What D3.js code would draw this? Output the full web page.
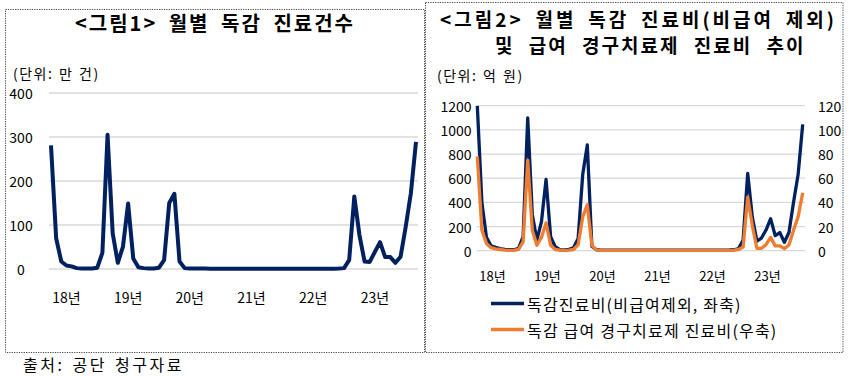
<!DOCTYPE html>
<html><head><meta charset="utf-8">
<script src="https://cdn.jsdelivr.net/npm/d3@7"></script>
<style>
html,body{margin:0;padding:0;background:#fff;}
text{font-family:"Noto Sans CJK KR","Noto Sans",sans-serif;fill:#000;}
</style></head><body>
<svg id="c" width="856" height="376"></svg>
<script>
// ---- data ----
const years = ["18","19","20","21","22","23"];
const monthNums = ["01","02","03","04","05","06","07","08","09","10","11","12"];
const months = years.flatMap(y => monthNums.map(m => y + "-" + m));
const xTickLabels = ["18년","19년","20년","21년","22년","23년"];

// 그림1: 월별 독감 진료건수 (만 건)
const visits = [
  281,70,17,8,6,2,1,1,1,3,37,305,
  81,14,51,149,24,4,2,1,1,3,20,150,
  171,17,2,1,1,1,1,0.5,0.5,0.5,0.5,0.5,
  0.5,0.5,0.5,0.5,0.5,0.5,0.5,0.5,0.5,0.5,0.5,0.5,
  0.5,0.5,0.5,0.5,0.5,0.5,0.5,0.5,1,2,20,165,
  77,17,16,39,61,27,27,14,28,96,172,289
];
// 그림2: 독감진료비(비급여제외, 좌축) (억 원)
const costTotal = [
  1200,400,110,40,28,17,11,8,8,19,116,1100,
  300,88,240,590,116,33,8,6,11,25,100,630,
  875,36,8,5,4,4,4,4,4,4,4,5,
  5,5,4,4,4,4,4,4,4,4,4,5,
  5,5,5,5,5,5,5,6,8,17,89,640,
  280,80,105,171,265,125,150,70,150,400,630,1045
];
// 독감 급여 경구치료제 진료비(우축) (억 원)
const costDrug = [
  78,17,6,2.5,1.5,1,0.5,0.3,0.3,1,7.5,75,
  17,4.5,11,23,4.5,1,0.5,0.3,0.5,1,5,28,
  38,4.5,0.5,0.2,0.2,0.2,0.2,0.2,0.2,0.2,0.2,0.2,
  0.2,0.2,0.2,0.2,0.2,0.2,0.2,0.2,0.2,0.2,0.2,0.2,
  0.2,0.2,0.2,0.2,0.2,0.2,0.2,0.3,0.5,1,3,44.5,
  21,2,2,5,11,4,4,1.7,4.7,17,28,48
];
const leftTicks1 = [0,100,200,300,400];
const leftTicks2 = [0,200,400,600,800,1000,1200];
const rightTicks2 = [0,20,40,60,80,100,120];
const legendLabels = ["독감진료비(비급여제외, 좌축)","독감 급여 경구치료제 진료비(우축)"];

const NAVY = "#002060", ORANGE = "#ED7D31", GRID = "#D9D9D9";
const svg = d3.select("#c");

// boxes
svg.append("rect").attr("x",5.5).attr("y",9.5).attr("width",419).attr("height",343)
  .attr("fill","none").attr("stroke","#444").attr("stroke-width",1).attr("stroke-dasharray","1.2,1.2");
svg.append("rect").attr("x",425.5).attr("y",2.5).attr("width",417.5).attr("height",350)
  .attr("fill","none").attr("stroke","#444").attr("stroke-width",1).attr("stroke-dasharray","1.2,1.2");

// ---------- Chart 1 ----------
svg.append("text").attr("x",215).attr("y",22).attr("text-anchor","middle").attr("dominant-baseline","central")
  .style("font-size","20px").style("font-weight","bold").style("word-spacing","5px").style("letter-spacing","2px")
  .text("<그림1> 월별 독감 진료건수");
svg.append("text").attr("x",13).attr("y",73).attr("dominant-baseline","central")
  .style("font-size","14px").style("letter-spacing","1.5px").style("word-spacing","1px").text("(단위: 만 건)");

const x1 = d3.scaleLinear().domain([0, months.length-1]).range([51, 416]);
const y1 = d3.scaleLinear().domain([0,400]).range([269, 93]);
const g1 = svg.append("g");
g1.selectAll("line.grid").data(leftTicks1).join("line")
  .attr("x1",49).attr("x2",418).attr("y1",d=>y1(d)).attr("y2",d=>y1(d))
  .attr("stroke",GRID).attr("stroke-width",1.3);
g1.selectAll("text.yt").data(leftTicks1).join("text")
  .attr("x",21).attr("y",d=>y1(d)).attr("text-anchor","middle").attr("dominant-baseline","central")
  .style("font-size","14px").text(d=>d);
g1.selectAll("text.xt").data(xTickLabels).join("text")
  .attr("x",(d,i)=>x1(i*12+3)).attr("y",297).attr("text-anchor","middle").attr("dominant-baseline","central")
  .style("font-size","14px").text(d=>d);
g1.append("path").datum(visits)
  .attr("d", d3.line().x((d,i)=>x1(i)).y(d=>y1(d)))
  .attr("fill","none").attr("stroke",NAVY).attr("stroke-width",4).attr("stroke-linejoin","round");

// ---------- Chart 2 ----------
svg.append("text").attr("x",440).attr("y",18).attr("dominant-baseline","central")
  .style("font-size","19px").style("font-weight","bold").style("word-spacing","4.5px").style("letter-spacing","3px")
  .text("<그림2> 월별 독감 진료비(비급여 제외)");
svg.append("text").attr("x",495).attr("y",44.5).attr("dominant-baseline","central")
  .style("font-size","19px").style("font-weight","bold").style("word-spacing","8px").style("letter-spacing","2px")
  .text("및 급여 경구치료제 진료비 추이");
svg.append("text").attr("x",437).attr("y",75).attr("dominant-baseline","central")
  .style("font-size","14px").style("letter-spacing","1.5px").style("word-spacing","1px").text("(단위: 억 원)");

const x2 = d3.scaleLinear().domain([0, months.length-1]).range([477.3, 802.7]);
const yL = d3.scaleLinear().domain([0,1200]).range([250.7, 105.7]);
const yR = d3.scaleLinear().domain([0,120]).range([250.7, 105.7]);
const g2 = svg.append("g");
g2.selectAll("line.grid").data(leftTicks2).join("line")
  .attr("x1",476.7).attr("x2",805).attr("y1",d=>yL(d)).attr("y2",d=>yL(d))
  .attr("stroke",GRID).attr("stroke-width",1.3);
g2.selectAll("text.yl").data(leftTicks2).join("text")
  .attr("x",471.5).attr("y",d=>yL(d)).attr("text-anchor","end").attr("dominant-baseline","central")
  .style("font-size","14px").text(d=>d);
g2.selectAll("text.yr").data(rightTicks2).join("text")
  .attr("x",818).attr("y",d=>yR(d)).attr("text-anchor","start").attr("dominant-baseline","central")
  .style("font-size","14px").text(d=>d);
g2.selectAll("text.xt").data(xTickLabels).join("text")
  .attr("x",(d,i)=>x2(i*12+3.3)).attr("y",275).attr("text-anchor","middle").attr("dominant-baseline","central")
  .style("font-size","13px").text(d=>d);

const defs = svg.append("defs");
defs.append("clipPath").attr("id","clip2").append("rect")
  .attr("x",470).attr("y",105.7).attr("width",345).attr("height",160);
g2.append("path").datum(costTotal)
  .attr("clip-path","url(#clip2)")
  .attr("d", d3.line().x((d,i)=>x2(i)).y(d=>yL(d)))
  .attr("fill","none").attr("stroke",NAVY).attr("stroke-width",3.3).attr("stroke-linejoin","round");
g2.append("path").datum(costDrug)
  .attr("d", d3.line().x((d,i)=>x2(i)).y(d=>yR(d)))
  .attr("fill","none").attr("stroke",ORANGE).attr("stroke-width",3.3).attr("stroke-linejoin","round");

// legend
const legendColors = [NAVY, ORANGE];
const lg = svg.append("g");
lg.selectAll("line").data(legendLabels).join("line")
  .attr("x1",491).attr("x2",524).attr("y1",(d,i)=>303.5+i*26).attr("y2",(d,i)=>303.5+i*26)
  .attr("stroke",(d,i)=>legendColors[i]).attr("stroke-width",3.3);
lg.selectAll("text").data(legendLabels).join("text")
  .attr("x",527).attr("y",(d,i)=>303.5+i*26).attr("dominant-baseline","central")
  .style("font-size","16px").style("letter-spacing","1.2px").text(d=>d);

// source
svg.append("text").attr("x",23).attr("y",364).attr("dominant-baseline","central")
  .style("font-size","16px").style("letter-spacing","2.5px").style("word-spacing","2px").text("출처: 공단 청구자료");
</script>
</body></html>
